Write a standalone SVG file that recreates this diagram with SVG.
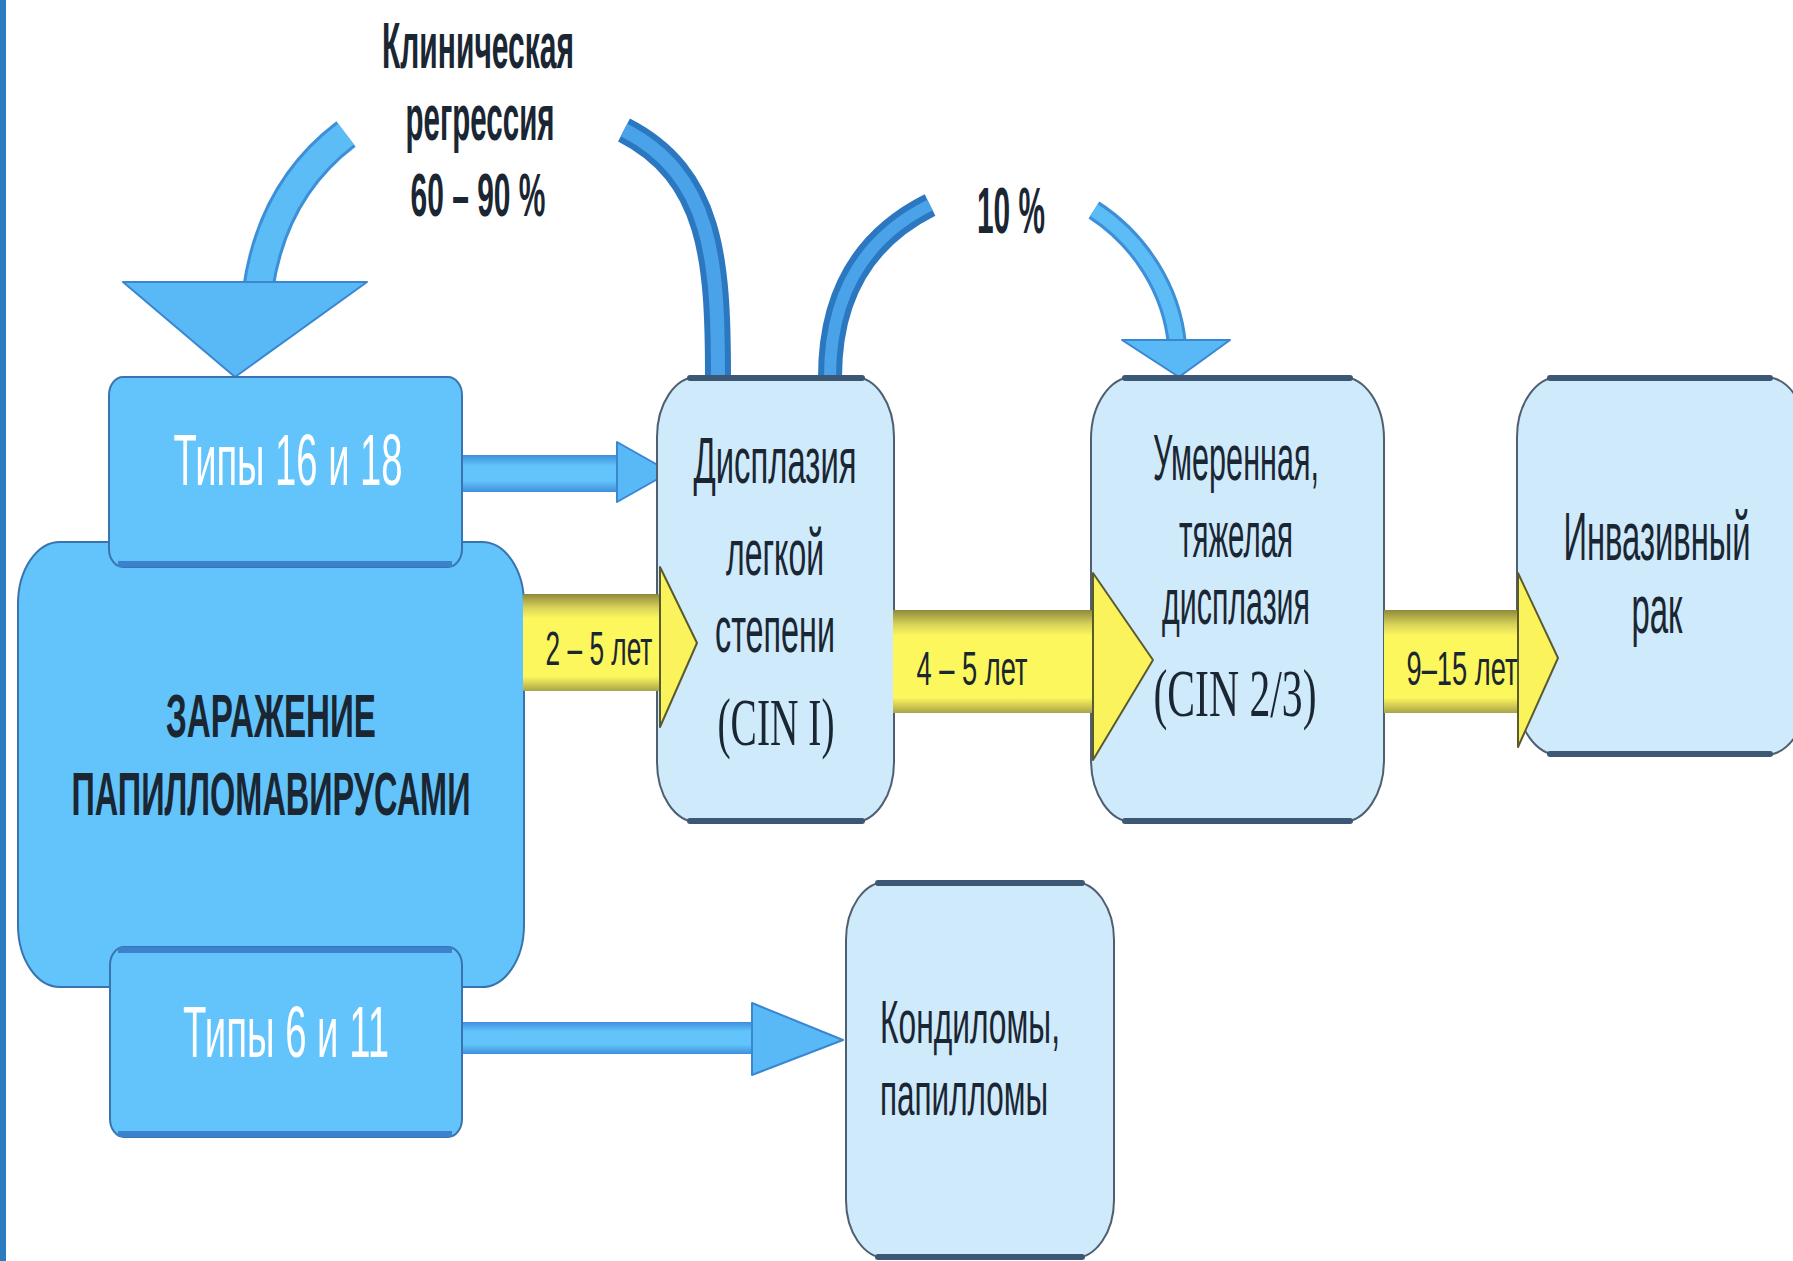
<svg xmlns="http://www.w3.org/2000/svg" width="1793" height="1261" viewBox="0 0 1793 1261">
<style>
.t{font-family:"Liberation Sans Narrow","Liberation Sans",Arial,sans-serif;fill:#1b2633;text-anchor:middle}
.b{font-weight:bold}
.w{fill:#ffffff}
.serif{font-family:"Liberation Serif","Times New Roman",serif}
.light{fill:#cfeafb;stroke:#4f5f70;stroke-width:2}
.blue{fill:#62c4fb;stroke:#3a74b0;stroke-width:2}
.topline{stroke:#3d5874;stroke-width:6;stroke-linecap:round}
.blueline{stroke:#3b82cc;stroke-width:6}
.yhead{fill:#fbf35c;stroke:#5a5a30;stroke-width:2;stroke-linejoin:round}
.bhead{fill:#58b9f6;stroke:#3a86d0;stroke-width:2;stroke-linejoin:round}
</style>
<defs>
<linearGradient id="yband" x1="0" y1="0" x2="0" y2="1">
<stop offset="0" stop-color="#8f8a3a"/>
<stop offset="0.14" stop-color="#d8d25a"/>
<stop offset="0.25" stop-color="#fdf75e"/>
<stop offset="0.85" stop-color="#fdf75e"/>
<stop offset="1" stop-color="#a9a44a"/>
</linearGradient>
<linearGradient id="bband" x1="0" y1="0" x2="0" y2="1">
<stop offset="0" stop-color="#3f8fdc"/>
<stop offset="0.3" stop-color="#62c4fb"/>
<stop offset="0.7" stop-color="#62c4fb"/>
<stop offset="1" stop-color="#3f8fdc"/>
</linearGradient>
</defs>
<rect x="0" y="0" width="1793" height="1261" fill="#ffffff"/>
<rect x="0" y="0" width="6" height="1261" fill="#2b7bbf"/>

<g id="connectors">
  <path d="M 346 134 Q 272 190 258 290" fill="none" stroke="#3d8fd8" stroke-width="32"/>
  <path d="M 346 134 Q 272 190 258 290" fill="none" stroke="#5cbcf6" stroke-width="26"/>
  <path d="M 624 130 C 712 175 718 260 718 377" fill="none" stroke="#2c78c0" stroke-width="26"/>
  <path d="M 624 130 C 712 175 718 260 718 377" fill="none" stroke="#4aa2e8" stroke-width="14"/>
  <path d="M 830 377 C 830 300 860 240 930 205" fill="none" stroke="#2c78c0" stroke-width="24"/>
  <path d="M 830 377 C 830 300 860 240 930 205" fill="none" stroke="#4aa2e8" stroke-width="12"/>
  <path d="M 1094 210 C 1140 240 1172 290 1177 345" fill="none" stroke="#3d8fd8" stroke-width="20"/>
  <path d="M 1094 210 C 1140 240 1172 290 1177 345" fill="none" stroke="#5cbcf6" stroke-width="14"/>
  <polygon points="123,282 367,282 235,377" class="bhead"/>
  <polygon points="1122,340 1230,340 1179,377" class="bhead"/>
  <rect x="460" y="455" width="158" height="37" fill="url(#bband)"/>
  <polygon points="617,442 670,472 617,502" class="bhead"/>
  <rect x="462" y="1022" width="291" height="32" fill="url(#bband)"/>
  <polygon points="752,1003 843,1040 752,1075" class="bhead"/>
</g>

<g id="n-infection">
  <rect x="18" y="542" width="506" height="445" rx="42" ry="62" class="blue" stroke="#2d3e52"/>
  <text class="t b" x="271" y="737" font-size="62" textLength="210" lengthAdjust="spacingAndGlyphs">ЗАРАЖЕНИЕ</text>
  <text class="t b" x="271" y="815" font-size="62" textLength="399" lengthAdjust="spacingAndGlyphs">ПАПИЛЛОМАВИРУСАМИ</text>
</g>

<g id="n-types1618">
  <rect x="109" y="377" width="353" height="190" rx="14" ry="18" class="blue" stroke="#4aa6e8"/>
  <line x1="118" y1="564" x2="452" y2="564" class="blueline"/>
  <text class="t w" x="288" y="485" font-size="72" textLength="229" lengthAdjust="spacingAndGlyphs">Типы 16 и 18</text>
</g>

<g id="n-types611">
  <rect x="110" y="947" width="352" height="190" rx="14" ry="18" class="blue" stroke="#4aa6e8"/>
  <line x1="118" y1="950" x2="452" y2="950" class="blueline"/>
  <line x1="118" y1="1134" x2="452" y2="1134" class="blueline"/>
  <text class="t w" x="286" y="1057" font-size="72" textLength="206" lengthAdjust="spacingAndGlyphs">Типы 6 и 11</text>
</g>

<g id="n-cin1">
  <rect x="657" y="377" width="237" height="445" rx="40" ry="60" class="light"/>
  <line x1="690" y1="378" x2="862" y2="378" class="topline"/>
  <line x1="690" y1="821" x2="862" y2="821" class="topline" stroke-width="4"/>
  <text class="t" x="775" y="483" font-size="64" textLength="163" lengthAdjust="spacingAndGlyphs">Дисплазия</text>
  <text class="t" x="775" y="575" font-size="64" textLength="98" lengthAdjust="spacingAndGlyphs">легкой</text>
  <text class="t" transform="translate(775 652) scale(0.6 1)" x="0" y="0" font-size="64" textLength="200" lengthAdjust="spacingAndGlyphs">степени</text>
  <text class="t serif" x="776" y="745" font-size="68" textLength="117" lengthAdjust="spacingAndGlyphs">(CIN I)</text>
</g>

<g id="n-cin23">
  <rect x="1091" y="377" width="293" height="445" rx="42" ry="62" class="light"/>
  <line x1="1125" y1="378" x2="1350" y2="378" class="topline"/>
  <line x1="1125" y1="821" x2="1350" y2="821" class="topline" stroke-width="4"/>
  <text class="t" x="1236" y="480" font-size="64" textLength="166" lengthAdjust="spacingAndGlyphs">Умеренная,</text>
  <text class="t" x="1236" y="557" font-size="64" textLength="114" lengthAdjust="spacingAndGlyphs">тяжелая</text>
  <text class="t" x="1236" y="624" font-size="64" textLength="148" lengthAdjust="spacingAndGlyphs">дисплазия</text>
  <text class="t serif" x="1235" y="716" font-size="68" textLength="163" lengthAdjust="spacingAndGlyphs">(CIN 2/3)</text>
</g>

<g id="n-cancer">
  <rect x="1517" y="377" width="290" height="378" rx="42" ry="60" class="light"/>
  <line x1="1550" y1="378" x2="1770" y2="378" class="topline"/>
  <line x1="1550" y1="754" x2="1770" y2="754" class="topline" stroke-width="4"/>
  <text class="t" transform="translate(1657 560) scale(0.6 1)" x="0" y="0" font-size="68" textLength="312" lengthAdjust="spacingAndGlyphs">Инвазивный</text>
  <text class="t" x="1657" y="633" font-size="68" textLength="51" lengthAdjust="spacingAndGlyphs">рак</text>
</g>

<g id="n-condyloma">
  <rect x="846" y="882" width="268" height="376" rx="40" ry="58" class="light"/>
  <line x1="878" y1="883" x2="1082" y2="883" class="topline"/>
  <line x1="878" y1="1257" x2="1082" y2="1257" class="topline" stroke-width="4"/>
  <text class="t" x="970" y="1043" font-size="62" textLength="180" lengthAdjust="spacingAndGlyphs">Кондиломы,</text>
  <text class="t" x="964" y="1115" font-size="62" textLength="168" lengthAdjust="spacingAndGlyphs">папилломы</text>
</g>

<g id="yellow-arrows">
  <rect x="523" y="594" width="138" height="97" fill="url(#yband)"/>
  <polygon points="660,567 697,643 660,727" class="yhead"/>
  <rect x="893" y="610" width="202" height="103" fill="url(#yband)"/>
  <polygon points="1093,573 1153,660 1093,760" class="yhead"/>
  <rect x="1384" y="610" width="135" height="103" fill="url(#yband)"/>
  <polygon points="1518,573 1558,658 1518,747" class="yhead"/>
  <text class="t" transform="translate(599 665) scale(0.6 1)" x="0" y="0" font-size="48" textLength="178" lengthAdjust="spacingAndGlyphs">2 – 5 лет</text>
  <text class="t" x="972" y="685" font-size="48" textLength="111" lengthAdjust="spacingAndGlyphs">4 – 5 лет</text>
  <text class="t" x="1462" y="685" font-size="48" textLength="111" lengthAdjust="spacingAndGlyphs">9–15 лет</text>
</g>

<g id="labels">
  <text class="t b" x="478" y="68" font-size="64" textLength="192" lengthAdjust="spacingAndGlyphs">Клиническая</text>
  <text class="t b" x="480" y="140" font-size="64" textLength="149" lengthAdjust="spacingAndGlyphs">регрессия</text>
  <text class="t b" x="478" y="216" font-size="62" textLength="135" lengthAdjust="spacingAndGlyphs">60 – 90 %</text>
  <text class="t b" x="1011" y="233" font-size="64" textLength="68" lengthAdjust="spacingAndGlyphs">10 %</text>
</g>
</svg>
